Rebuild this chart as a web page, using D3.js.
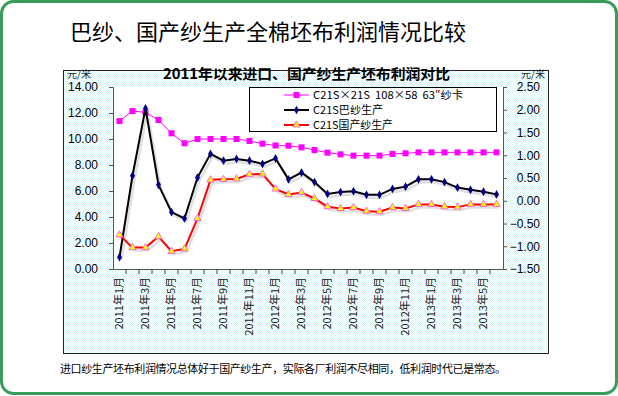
<!DOCTYPE html>
<html>
<head>
<meta charset="utf-8">
<script src="https://cdn.jsdelivr.net/npm/d3@7"></script>
<style>
  html, body { margin: 0; padding: 0; background: #fff; }
  svg { display: block; }
</style>
</head>
<body>
<div id="chart"></div>
<script>
// data
const months = [
  '2011年1月', '2011年2月', '2011年3月', '2011年4月', '2011年5月', '2011年6月',
  '2011年7月', '2011年8月', '2011年9月', '2011年10月', '2011年11月', '2011年12月',
  '2012年1月', '2012年2月', '2012年3月', '2012年4月', '2012年5月', '2012年6月',
  '2012年7月', '2012年8月', '2012年9月', '2012年10月', '2012年11月', '2012年12月',
  '2013年1月', '2013年2月', '2013年3月', '2013年4月', '2013年5月', '2013年6月',
]
// left axis (元/米)
const satinValues = [
  11.38, 12.15, 12.05, 11.46, 10.44, 9.67, 10.0, 10.0, 10.0, 10.0, 9.85, 9.64,
  9.50, 9.48, 9.36, 9.15, 8.95, 8.82, 8.72, 8.72, 8.72, 8.85, 8.90, 8.97,
  8.97, 8.97, 8.97, 8.97, 8.97, 8.97,
]
// right axis (元/米)
const pakYarnValues = [
  -1.24, 0.55, 2.03, 0.35, -0.25, -0.39, 0.51, 1.03, 0.88, 0.92, 0.88, 0.81,
  0.93, 0.47, 0.62, 0.41, 0.15, 0.19, 0.21, 0.13, 0.13, 0.26, 0.31, 0.47,
  0.47, 0.41, 0.29, 0.24, 0.20, 0.14,
]
const homeYarnValues = [
  -0.75, -1.03, -1.03, -0.79, -1.11, -1.06, -0.39, 0.46, 0.47, 0.48, 0.58, 0.59,
  0.26, 0.14, 0.18, 0.05, -0.13, -0.17, -0.15, -0.23, -0.24, -0.15, -0.17, -0.08,
  -0.08, -0.13, -0.14, -0.08, -0.08, -0.08,
]
const leftTicks = [0, 2, 4, 6, 8, 10, 12, 14]
const rightTicks = [-1.5, -1, -0.5, 0, 0.5, 1, 1.5, 2, 2.5]
const seriesNames = ['C21S×21S  108×58  63″纱卡', 'C21S巴纱生产', 'C21S国产纱生产']

const W = 618
const H = 396
const plot = {left: 113, right: 503, top: 87, bottom: 269}
const numFont = '"Liberation Sans", Arial, sans-serif'
const cjkFont = '"Noto Sans CJK SC", sans-serif'

const svg = d3.select('#chart').append('svg')
  .attr('width', W).attr('height', H)

const defs = svg.append('defs')
const pat = defs.append('pattern')
  .attr('id', 'dots').attr('width', 2).attr('height', 2)
  .attr('patternUnits', 'userSpaceOnUse')
pat.append('rect').attr('width', 2).attr('height', 2).attr('fill', '#fff')
pat.append('rect').attr('width', 1).attr('height', 1).attr('fill', '#d8f8f8')
pat.append('rect').attr('x', 1).attr('y', 1).attr('width', 1).attr('height', 1).attr('fill', '#d8f8f8')

// outer card
svg.append('rect')
  .attr('x', 1.5).attr('y', 1.5).attr('width', W - 3).attr('height', H - 4)
  .attr('rx', 12).attr('fill', '#fff')
  .attr('stroke', '#3a9c5c').attr('stroke-width', 3)

svg.append('text')
  .attr('x', 70).attr('y', 40)
  .attr('font-family', cjkFont).attr('font-size', 22)
  .attr('fill', '#000')
  .text('巴纱、国产纱生产全棉坯布利润情况比较')

// chart frame
svg.append('rect')
  .attr('x', 63.5).attr('y', 70.5).attr('width', 485).attr('height', 283)
  .attr('fill', 'url(#dots)').attr('stroke', '#222').attr('stroke-width', 1)

svg.append('rect')
  .attr('x', plot.left).attr('y', plot.top)
  .attr('width', plot.right - plot.left).attr('height', plot.bottom - plot.top)
  .attr('fill', '#fff')

svg.append('text')
  .attr('x', 163).attr('y', 79)
  .attr('font-family', cjkFont).attr('font-weight', 'bold').attr('font-size', 14)
  .attr('textLength', 287).attr('lengthAdjust', 'spacingAndGlyphs')
  .text('2011年以来进口、国产纱生产坯布利润对比')

svg.append('text')
  .attr('x', 67).attr('y', 78)
  .attr('font-family', cjkFont).attr('font-size', 10).attr('fill', '#222')
  .text('元/米')
svg.append('text')
  .attr('x', 545).attr('y', 78).attr('text-anchor', 'end')
  .attr('font-family', cjkFont).attr('font-size', 10).attr('fill', '#222')
  .text('元/米')

// scales
const x = d3.scaleBand().domain(months).range([plot.left, plot.right])
const cx = m => x(m) + x.bandwidth() / 2
const yLeft = d3.scaleLinear().domain([0, 14]).range([plot.bottom, plot.top])
const yRight = d3.scaleLinear().domain([-1.5, 2.5]).range([plot.bottom, plot.top])

// axes
const leftAxis = svg.append('g')
  .attr('transform', `translate(${plot.left}, 0)`)
  .call(d3.axisLeft(yLeft).tickValues(leftTicks).tickFormat(d3.format('.2f'))
    .tickSize(4).tickPadding(11))
const rightAxis = svg.append('g')
  .attr('transform', `translate(${plot.right}, 0)`)
  .call(d3.axisRight(yRight).tickValues(rightTicks).tickFormat(d3.format('.2f'))
    .tickSize(4).tickPadding(33))
rightAxis.selectAll('text').attr('text-anchor', 'end')

const xAxis = svg.append('g')
  .attr('transform', `translate(0, ${plot.bottom})`)
  .call(d3.axisBottom(x).tickSize(0).tickPadding(0)
    .tickFormat((d, i) => (i % 2 === 0 ? d : '')))
xAxis.selectAll('text')
  .attr('transform', 'rotate(-90)')
  .attr('text-anchor', 'end')
  .attr('x', -8).attr('y', 0).attr('dy', '0.35em')
  .attr('font-family', cjkFont).attr('font-size', 11).attr('fill', '#222')

// category boundary ticks
xAxis.selectAll('line.cat')
  .data(months.slice(1))
  .enter().append('line')
  .attr('class', 'cat')
  .attr('x1', d => x(d)).attr('x2', d => x(d))
  .attr('y1', 0).attr('y2', 5)
  .attr('stroke', '#444')

for (const g of [leftAxis, rightAxis, xAxis]) {
  g.select('.domain').attr('stroke', '#555')
  g.selectAll('.tick line').attr('stroke', '#555')
}
for (const g of [leftAxis, rightAxis]) {
  g.selectAll('text')
    .attr('font-family', numFont).attr('font-size', 12).attr('fill', '#000')
}

// series
const rows = months.map((m, i) => ({
  m, satin: satinValues[i], pak: pakYarnValues[i], home: homeYarnValues[i],
}))

const lineSatin = d3.line().x(d => cx(d.m)).y(d => yLeft(d.satin))
const linePak = d3.line().x(d => cx(d.m)).y(d => yRight(d.pak))
const lineHome = d3.line().x(d => cx(d.m)).y(d => yRight(d.home))

const shadow = svg.append('g')
  .attr('transform', 'translate(2, 3)')
  .attr('fill', 'none').attr('stroke', '#ccc').attr('stroke-width', 2.5)
  .attr('opacity', 0.6)
shadow.append('path').datum(rows).attr('d', linePak)
shadow.append('path').datum(rows).attr('d', lineHome)

svg.append('path').datum(rows)
  .attr('d', lineSatin).attr('fill', 'none')
  .attr('stroke', '#ff00ff').attr('stroke-width', 1)
svg.selectAll('rect.satin').data(rows).enter().append('rect')
  .attr('class', 'satin')
  .attr('x', d => cx(d.m) - 3).attr('y', d => yLeft(d.satin) - 3)
  .attr('width', 6).attr('height', 6).attr('fill', '#ff00ff')

svg.append('path').datum(rows)
  .attr('d', linePak).attr('fill', 'none')
  .attr('stroke', '#000').attr('stroke-width', 2)
const diamond = d3.symbol().type(d3.symbolDiamond).size(22)
svg.selectAll('path.pak').data(rows).enter().append('path')
  .attr('class', 'pak')
  .attr('transform', d => `translate(${cx(d.m)}, ${yRight(d.pak)})`)
  .attr('d', diamond).attr('fill', '#000080')

svg.append('path').datum(rows)
  .attr('d', lineHome).attr('fill', 'none')
  .attr('stroke', '#ff0000').attr('stroke-width', 2)
const tri = d3.symbol().type(d3.symbolTriangle).size(22)
svg.selectAll('path.home').data(rows).enter().append('path')
  .attr('class', 'home')
  .attr('transform', d => `translate(${cx(d.m)}, ${yRight(d.home)})`)
  .attr('d', tri).attr('fill', '#ffff00')
  .attr('stroke', '#ff66cc').attr('stroke-width', 1)

// legend
const legend = svg.append('g')
legend.append('rect')
  .attr('x', 249.5).attr('y', 87.5).attr('width', 247).attr('height', 44)
  .attr('fill', '#fff').attr('stroke', '#000')
const legendRows = [95, 110, 125]
const legendColors = ['#ff00ff', '#000', '#ff0000']
const legendWidths = [150, 70, 80]
seriesNames.forEach((name, i) => {
  const ly = legendRows[i]
  legend.append('line')
    .attr('x1', 284).attr('x2', 309).attr('y1', ly).attr('y2', ly)
    .attr('stroke', legendColors[i]).attr('stroke-width', i === 0 ? 1 : 2)
  if (i === 0) {
    legend.append('rect').attr('x', 293.5).attr('y', ly - 3)
      .attr('width', 6).attr('height', 6).attr('fill', '#ff00ff')
  } else if (i === 1) {
    legend.append('path').attr('transform', `translate(296.5, ${ly})`)
      .attr('d', diamond).attr('fill', '#000080')
  } else {
    legend.append('path').attr('transform', `translate(296.5, ${ly})`)
      .attr('d', tri).attr('fill', '#ffff00')
      .attr('stroke', '#ff66cc')
  }
  legend.append('text')
    .attr('x', 313).attr('y', ly).attr('dy', '0.35em')
    .attr('font-family', cjkFont)
    .attr('font-size', 11).attr('fill', '#000')
    .style('white-space', 'pre')
    .attr('textLength', legendWidths[i]).attr('lengthAdjust', 'spacingAndGlyphs')
    .text(name)
})

// caption
svg.append('text')
  .attr('x', 60).attr('y', 373)
  .attr('font-family', cjkFont).attr('font-size', 11).attr('fill', '#000')
  .attr('textLength', 446)
  .text('进口纱生产坯布利润情况总体好于国产纱生产，实际各厂利润不尽相同，低利润时代已是常态。')
</script>
</body>
</html>
